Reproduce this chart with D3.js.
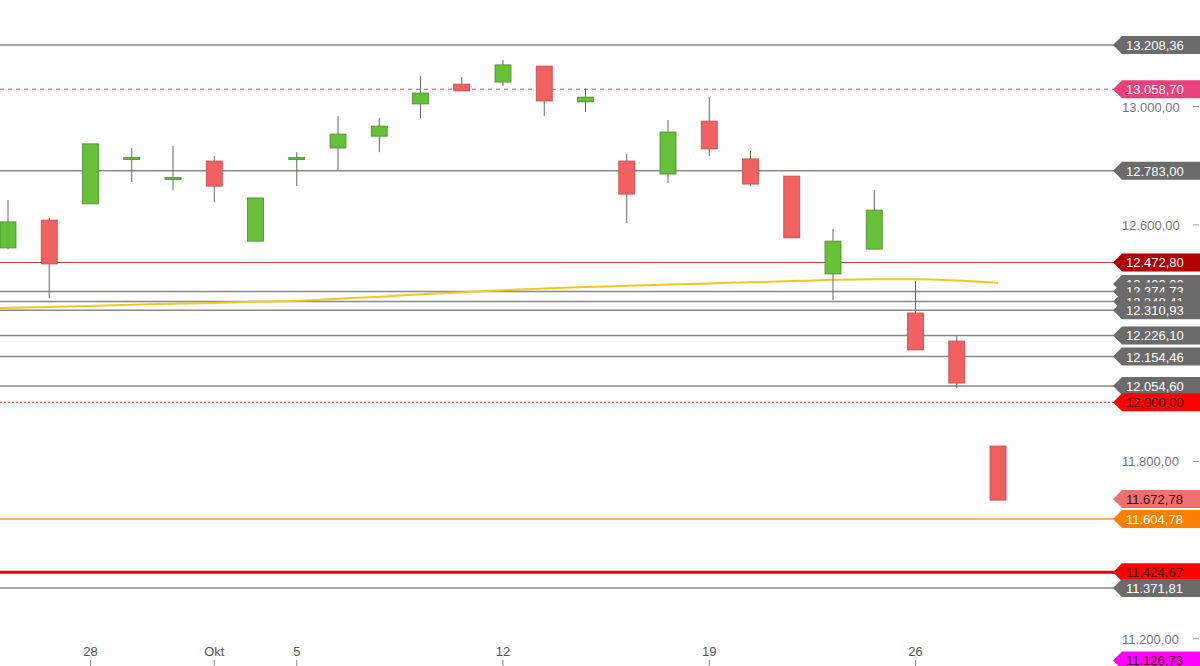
<!DOCTYPE html><html><head><meta charset="utf-8"><script src="https://cdn.jsdelivr.net/npm/d3@7"></script>
<style>body{margin:0;background:#fff}svg{font-family:Arial,"Liberation Sans",sans-serif}</style></head><body><svg id="c" width="1200" height="666"></svg>
<script>
const dates=["2020-09-24","2020-09-25","2020-09-28","2020-09-29","2020-09-30","2020-10-01","2020-10-02","2020-10-05","2020-10-06","2020-10-07","2020-10-08","2020-10-09","2020-10-12","2020-10-13","2020-10-14","2020-10-15","2020-10-16","2020-10-19","2020-10-20","2020-10-21","2020-10-22","2020-10-23","2020-10-26","2020-10-27","2020-10-28"];
const open =[12522,12616,12671,12823,12756,12816,12545,12824,12860,12900,13009,13076,13083,13137,13016,12816,12772,12951,12823,12765,12434,12518,12302,12207,11852];
const close=[12610,12468,12874,12828,12760,12731,12691,12828,12907,12934,13046,13053,13141,13019,13032,12704,12914,12857,12738,12556,12545,12650,12177,12065,11669];
const high =[12684,12623,12874,12860,12867,12833,12691,12846,12968,12961,13103,13100,13158,13137,13063,12840,12955,13032,12850,12765,12586,12718,12410,12224,11852];
const low  =[12518,12353,12671,12745,12718,12677,12545,12731,12786,12846,12961,13070,13070,12968,12982,12606,12742,12833,12731,12556,12346,12518,12177,12048,11669];
const ma   =[12319,12322,12326,12330,12333,12336,12340,12343,12350,12357,12365,12372,12379,12385,12390,12394,12398,12402,12406,12410,12414,12416,12416,12412,12404];
const levels=[
 {v:13208.36,line:"#888",lab:"#6b6b6b",txt:"#fff",w:1.5},
 {v:13058.70,line:"#e8407a",lab:"#e8407a",txt:"#fff",w:1.2,dash:"4,4"},
 {v:12783.00,line:"#888",lab:"#6b6b6b",txt:"#fff",w:1.5},
 {v:12472.80,line:"#c04040",lab:"#b00000",txt:"#fff",w:1.2},
 {v:12400.00,line:null,lab:"#6b6b6b",txt:"#fff"},
 {v:12374.73,line:"#888",lab:"#6b6b6b",txt:"#fff",w:1.5},
 {v:12340.41,line:"#888",lab:"#6b6b6b",txt:"#fff",w:1.5},
 {v:12310.93,line:"#888",lab:"#6b6b6b",txt:"#fff",w:1.5},
 {v:12226.10,line:"#888",lab:"#6b6b6b",txt:"#fff",w:1.5},
 {v:12154.46,line:"#888",lab:"#6b6b6b",txt:"#fff",w:1.5},
 {v:12054.60,line:"#888",lab:"#6b6b6b",txt:"#fff",w:1.5},
 {v:12000.00,line:"#ff2020",lab:"#ff0000",txt:"#400",w:1.2,dash:"2,2"},
 {v:11672.78,line:null,lab:"#f07070",txt:"#400"},
 {v:11604.78,line:"#ffb060",lab:"#ff7f00",txt:"#fff",w:2},
 {v:11424.67,line:"#ee0000",lab:"#ff0000",txt:"#400",w:3},
 {v:11371.81,line:"#888",lab:"#6b6b6b",txt:"#fff",w:1.5},
 {v:11126.73,line:null,lab:"#ff00ff",txt:"#400"}];
const yTicks=[11200,11800,12600,13000];
const xTicks=[["2020-09-28","28"],["2020-10-01","Okt"],["2020-10-05","5"],["2020-10-12","12"],["2020-10-19","19"],["2020-10-26","26"]];

const svg=d3.select("#c");
const loc=d3.formatLocale({decimal:",",thousands:".",grouping:[3],currency:["","€"]});
const fmt=loc.format(",.2f");
const y=d3.scaleLinear().domain([11371.81,13208.36]).range([588,45]);
const x=d3.scalePoint().domain(dates).range([8,998]);
// levels lines
levels.filter(d=>d.line).forEach(d=>{
 svg.append("line").attr("x1",0).attr("x2",1115).attr("y1",y(d.v)).attr("y2",y(d.v)).attr("stroke",d.line).attr("stroke-width",d.w).attr("stroke-dasharray",d.dash||null);
});
// y ticks
yTicks.forEach(t=>{
 svg.append("text").attr("x",1122).attr("y",y(t)+5).attr("font-size",13).attr("fill","#777").text(fmt(t));
 svg.append("line").attr("x1",1193).attr("x2",1199).attr("y1",y(t)).attr("y2",y(t)).attr("stroke","#999");
});
// MA
svg.append("path").datum(ma).attr("fill","none").attr("stroke","#f2c81e").attr("stroke-width",2)
 .attr("d",d3.line().x((d,i)=>i==0?0:x(dates[i])).y(d=>y(d)).curve(d3.curveMonotoneX));
// candles
dates.forEach((d,i)=>{
 const up=close[i]>=open[i];
 const cx=x(d);
 svg.append("line").attr("x1",cx).attr("x2",cx).attr("y1",y(high[i])).attr("y2",y(low[i])).attr("stroke","#666");
 const top=y(Math.max(open[i],close[i])),bot=y(Math.min(open[i],close[i]));
 svg.append("rect").attr("x",cx-8).attr("width",16).attr("y",top).attr("height",Math.max(2,bot-top))
  .attr("fill",up?"#66c03a":"#f06262").attr("stroke",up?"#4a8a2a":"#c84848").attr("stroke-width",0.8);
});
// labels
levels.forEach(d=>{
 const yy=y(d.v),h=18;
 svg.append("path").attr("d",`M1113,${yy} L1122,${yy-h/2} L1200,${yy-h/2} L1200,${yy+h/2} L1122,${yy+h/2} Z`).attr("fill",d.lab);
 svg.append("text").attr("x",1126).attr("y",yy+5).attr("font-size",13).attr("fill",d.txt).text(fmt(d.v));
});
// x axis
xTicks.forEach(([d,l])=>{
 const xx=x(d);
 svg.append("text").attr("x",xx).attr("y",656).attr("text-anchor","middle").attr("font-size",13).attr("fill","#555").text(l);
 svg.append("line").attr("x1",xx).attr("x2",xx).attr("y1",660).attr("y2",666).attr("stroke","#888");
});
</script></body></html>
